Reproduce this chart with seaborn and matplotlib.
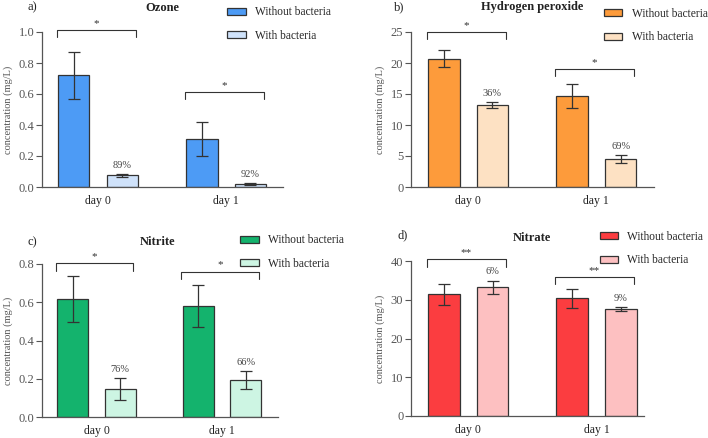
import numpy as np
import pandas as pd
import seaborn as sns
import matplotlib.pyplot as plt

days = ["day 0", "day 1"]
groups = ["Without bacteria", "With bacteria"]

# a) ozone
ozone_without = [0.72, 0.31]
ozone_without_err = [0.15, 0.107]
ozone_with = [0.075, 0.02]
ozone_with_err = [0.008, 0.005]
ozone_reduction = ["89%", "92%"]
ozone_sig = ["*", "*"]
ozone_bracket = [1.01, 0.613]

# b) hydrogen peroxide
h2o2_without = [20.7, 14.7]
h2o2_without_err = [1.4, 1.9]
h2o2_with = [13.2, 4.5]
h2o2_with_err = [0.5, 0.6]
h2o2_reduction = ["36%", "69%"]
h2o2_sig = ["*", "*"]
h2o2_bracket = [25.0, 19.0]

# c) nitrite
nitrite_without = [0.615, 0.58]
nitrite_without_err = [0.12, 0.112]
nitrite_with = [0.145, 0.195]
nitrite_with_err = [0.057, 0.047]
nitrite_reduction = ["76%", "66%"]
nitrite_sig = ["*", "*"]
nitrite_bracket = [0.803, 0.76]

# d) nitrate
nitrate_without = [31.4, 30.4]
nitrate_without_err = [2.7, 2.45]
nitrate_with = [33.2, 27.6]
nitrate_with_err = [1.75, 0.55]
nitrate_reduction = ["6%", "9%"]
nitrate_sig = ["**", "**"]
nitrate_bracket = [40.4, 35.9]

sns.set_style("ticks")
plt.rcParams["font.family"] = ["Liberation Serif", "DejaVu Serif"]

W, H = 708, 438
fig = plt.figure(figsize=(W / 100, H / 100), dpi=100)

DARK = "#333333"


def px_axes(left, top, right, bottom):
    return fig.add_axes([left / W, 1 - bottom / H, (right - left) / W, (bottom - top) / H])


def draw_panel(box, xlim, tag, tag_xy, title, title_xy, leg_anchor,
               wo, wo_err, wi, wi_err, reduction, sig, bracket, drop,
               colors, yticks, yfmt):
    ax = px_axes(*box)
    df = pd.DataFrame({
        "day": days * 2,
        "group": [groups[0]] * 2 + [groups[1]] * 2,
        "value": wo + wi,
    })
    sns.barplot(data=df, x="day", y="value", hue="group", palette=colors,
                saturation=1, width=0.76, gap=0.35, errorbar=None,
                edgecolor=DARK, linewidth=0.9, ax=ax)

    for cont, means, err in zip(ax.containers, [wo, wi], [wo_err, wi_err]):
        xs = [p.get_x() + p.get_width() / 2 for p in cont.patches]
        ax.errorbar(xs, means, yerr=err, fmt="none", ecolor=DARK,
                    elinewidth=0.9, capsize=4.5, capthick=0.9)

    for i in range(len(days)):
        p0 = ax.containers[0].patches[i]
        p1 = ax.containers[1].patches[i]
        # reduction label above "with bacteria" bar
        ax.annotate(reduction[i], (p1.get_x() + p1.get_width() / 2, wi[i] + wi_err[i]),
                    xytext=(0, 3), textcoords="offset points",
                    ha="center", va="bottom", fontsize=7.5, color="#444444")
        # significance bracket
        l = p0.get_x() - 0.01
        r = p1.get_x() + p1.get_width() - 0.02
        y = bracket[i]
        ax.plot([l, l, r, r], [y - drop, y, y, y - drop], color=DARK, lw=0.8,
                clip_on=False)
        ax.annotate(sig[i], ((l + r) / 2, y), xytext=(0, 1.5),
                    textcoords="offset points", ha="center", va="bottom",
                    fontsize=8, color=DARK, annotation_clip=False)

    ax.set_xlim(*xlim)
    ax.set_ylim(yticks[0], yticks[-1])
    ax.set_yticks(yticks)
    ax.set_yticklabels([yfmt.format(t) for t in yticks])
    ax.set_xlabel("")
    ax.set_ylabel("concentration (mg/L)", fontsize=7.5, color="#555555", labelpad=4)
    ax.tick_params(axis="y", labelsize=9, colors="#555555", length=4, width=0.8, pad=1.5)
    ax.tick_params(axis="x", labelsize=8.5, colors="#222222", length=0, pad=6)
    for s in ["left", "bottom"]:
        ax.spines[s].set_color("#555555")
        ax.spines[s].set_linewidth(0.9)
    sns.despine(ax=ax)

    handles, labels = ax.get_legend_handles_labels()
    ax.legend(handles, labels, loc="upper left", bbox_to_anchor=leg_anchor,
              frameon=False, fontsize=8.3, handlelength=1.6, handleheight=0.55,
              handletextpad=0.8, labelspacing=0.98, borderpad=0,
              borderaxespad=0)

    fig.text(tag_xy[0] / W, 1 - tag_xy[1] / H, tag, fontsize=9,
             ha="left", va="center", color="#222222")
    fig.text(title_xy[0] / W, 1 - title_xy[1] / H, title, fontsize=9,
             fontweight="bold", ha="center", va="center", color="#222222")
    return ax


draw_panel((42, 32, 283, 187), (-0.4375, 1.445), "a)", (27, 7), "Ozone", (162, 8),
           (0.768, 1.165),
           ozone_without, ozone_without_err, ozone_with, ozone_with_err,
           ozone_reduction, ozone_sig, ozone_bracket, 0.045,
           ["#4d9bf5", "#cfe2fa"], [0.0, 0.2, 0.4, 0.6, 0.8, 1.0], "{:.1f}")

draw_panel((411, 32, 654, 187), (-0.445, 1.45), "b)", (394, 7), "Hydrogen peroxide", (532, 7),
           (0.794, 1.155),
           h2o2_without, h2o2_without_err, h2o2_with, h2o2_with_err,
           h2o2_reduction, h2o2_sig, h2o2_bracket, 1.15,
           ["#fd9b3b", "#fde1c3"], [0, 5, 10, 15, 20, 25], "{:.0f}")

draw_panel((42, 264, 278, 417), (-0.434, 1.446), "c)", (27, 242), "Nitrite", (158, 242),
           (0.84, 1.193),
           nitrite_without, nitrite_without_err, nitrite_with, nitrite_with_err,
           nitrite_reduction, nitrite_sig, nitrite_bracket, 0.038,
           ["#14b36d", "#cdf5e3"], [0.0, 0.2, 0.4, 0.6, 0.8], "{:.1f}")

draw_panel((411, 261, 644, 416), (-0.445, 1.37), "d)", (397, 235), "Nitrate", (532, 238),
           (0.81, 1.194),
           nitrate_without, nitrate_without_err, nitrate_with, nitrate_with_err,
           nitrate_reduction, nitrate_sig, nitrate_bracket, 1.9,
           ["#fb3d40", "#fdc0c1"], [0, 10, 20, 30, 40], "{:.0f}")

fig.savefig("out.png", dpi=100)
